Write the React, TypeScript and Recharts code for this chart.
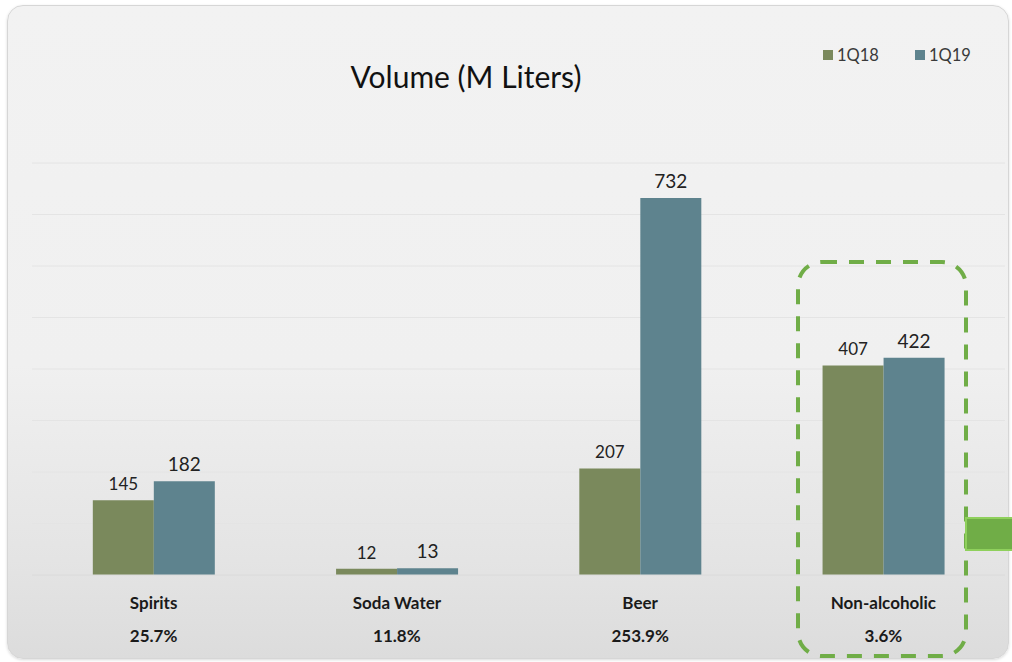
import React from 'react'
import { BarChart, Bar, XAxis, YAxis, CartesianGrid, LabelList, Legend } from 'recharts'

const categories = ['Spirits', 'Soda Water', 'Beer', 'Non-alcoholic']
const q18 = [145, 12, 207, 407]
const q19 = [182, 13, 732, 422]
const growth = ['25.7%', '11.8%', '253.9%', '3.6%']
const yTicks = [0, 100, 200, 300, 400, 500, 600, 700, 800]

const data = categories.map((name, i) => ({ name, q18: q18[i], q19: q19[i], growth: growth[i] }))

const FONT = 'Lato, "Open Sans", sans-serif'
const OLIVE = '#7a895c'
const TEAL = '#5e838e'
const GREEN = '#70ad47'

const CatTick = (props: any) => {
  const { x, y, payload, index } = props
  return (
    <g>
      <text x={x} y={y + 26} textAnchor="middle" fontFamily={FONT} fontWeight={700} fontSize={17} fill="#1a1a1a">{payload.value}</text>
      <text x={x} y={y + 59} textAnchor="middle" fontFamily={FONT} fontWeight={700} fontSize={17} fill="#1a1a1a">{growth[index]}</text>
    </g>
  )
}

const LegendBox = (props: any) => (
  <div style={{ display: 'flex', gap: 36, fontFamily: FONT, fontSize: 16.5, lineHeight: '20px', height: 20, color: '#3a3a3a' }}>
    {props.payload.map((p: any) => (
      <div key={p.value} style={{ display: 'flex', alignItems: 'center', gap: 4 }}>
        <span style={{ width: 10, height: 10, background: p.color, display: 'inline-block' }} />
        <span>{p.value}</span>
      </div>
    ))}
  </div>
)

export default function App() {
  return (
    <div style={{ position: 'fixed', left: 0, top: 0, width: 1012, height: 662, background: '#ffffff', overflow: 'hidden' }}>
      <div style={{
        position: 'absolute', left: 7, top: 5, width: 1000, height: 652,
        borderRadius: 16, border: '1px solid #d6d6d6',
        background: 'linear-gradient(180deg, #f2f2f2 0%, #f0f0f0 55%, #e4e4e4 85%, #dcdcdc 100%)',
        boxShadow: '0 1px 3px rgba(0,0,0,0.15)'
      }} />
      <div style={{ position: 'absolute', left: 0, width: 932, top: 58, textAlign: 'center', fontFamily: FONT, fontSize: 30, color: '#111' }}>
        Volume (M Liters)
      </div>
      <div style={{ position: 'absolute', left: 0, top: 0 }}>
        <BarChart width={1012} height={662} data={data} margin={{ top: 143, right: 7, bottom: 0, left: 32 }} barCategoryGap="25%" barGap={0}>
          <CartesianGrid horizontal vertical={false} stroke="#e4e4e4" />
          <XAxis dataKey="name" axisLine={{ stroke: '#dadada' }} tickLine={false} tick={<CatTick />} interval={0} height={87} />
          <YAxis hide domain={[0, 800]} ticks={yTicks} />
          <Legend verticalAlign="top" height={20} content={<LegendBox />} wrapperStyle={{ position: 'absolute', left: 823, top: 45, width: 'auto' }} />
          <Bar dataKey="q18" name="1Q18" fill={OLIVE} isAnimationActive={false}>
            <LabelList dataKey="q18" position="top" offset={10} fontFamily={FONT} fontSize={17} fill="#222" />
          </Bar>
          <Bar dataKey="q19" name="1Q19" fill={TEAL} isAnimationActive={false}>
            <LabelList dataKey="q19" position="top" offset={10} fontFamily={FONT} fontSize={19} fill="#222" />
          </Bar>
        </BarChart>
      </div>
      <svg width={1012} height={662} style={{ position: 'absolute', left: 0, top: 0, pointerEvents: 'none' }}>
        <rect x={798} y={262} width={168} height={394} rx={24} fill="none" stroke={GREEN} strokeWidth={4} strokeDasharray="15 12" />
        <rect x={966} y={518} width={50} height={32} fill={GREEN} stroke="#8fd05c" strokeWidth={2} />
      </svg>
    </div>
  )
}
